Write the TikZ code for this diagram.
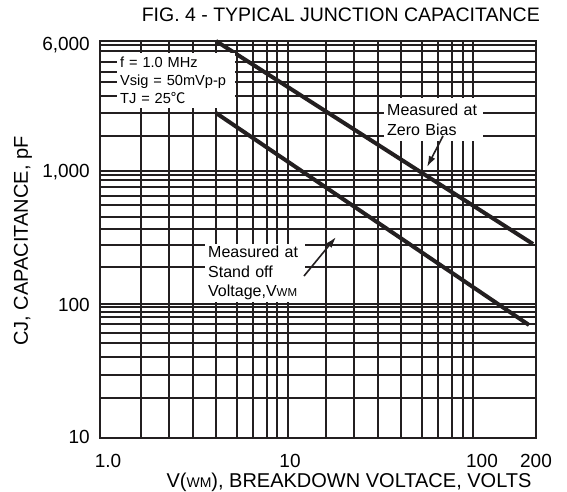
\documentclass[tikz,border=0pt]{standalone}
\usepackage{fontspec}
\setmainfont{Liberation Sans}
\newfontfamily\cjk{Noto Sans CJK SC}
\usepackage{tikz}
\usetikzlibrary{arrows.meta}
\definecolor{ink}{HTML}{231F20}
\tikzset{grid/.style={ink,line width=1.6pt},
    frame/.style={ink,line width=1.8pt},
    curve/.style={ink,line width=4pt},
    tick/.style={font=\fontsize{19}{19}\selectfont,inner sep=0pt},
    lab/.style={fill=white,inner xsep=3pt,inner ysep=0pt,align=left,font=\fontsize{16}{19.5}\selectfont}}

\begin{document}
\begin{tikzpicture}[x=1pt,y=-1pt,>={Latex[length=11pt,width=7pt]}]
    \useasboundingbox (0,0) rectangle (567,491);

    % grid and frame
    \foreach \x in {141,169,193,216,237,253,267,277,288,326,354,378,401,422,438,452,463,473}
        \draw [grid] (\x,41) -- (\x,438);
    \foreach \y in {45,51,62,72,82,96,113,136,171,175,180,187,196,205,217,229,245,267,304,307,312,317,324,333,343,357,375,398}
        \draw [grid] (100,\y) -- (536,\y);
    \draw [frame] (100,41) rectangle (536,438);

    % curves
    \coordinate (zb0) at (216,41);
    \coordinate (zb1) at (533,244);
    \coordinate (so0) at (216,113);
    \coordinate (so1) at (529,325);
    \draw [curve] (zb0) -- (zb1);
    \draw [curve] (so0) -- (so1);

    % labels
    \node[lab,font=\fontsize{14.6}{18}\selectfont,anchor=north west,text width=112pt,minimum height=55pt] (cond) at (117,53)
        {f = 1.0 MHz\\Vsig = 50mVp-p\\TJ = 25{\cjk ℃}};
    \node[lab,anchor=north west,text width=93pt,minimum height=43pt] (zero) at (384,98)
        {Measured at\\Zero Bias};
    \node[lab,anchor=north west,text width=94pt,minimum height=58pt] (stand) at (205,244)
        {Measured at\\Stand off\\Voltage,V{\fontsize{11.5}{11.5}\selectfont WM}};

    \coordinate (zbtail) at (443,136);
    \coordinate (zbtip) at (427,167);
    \coordinate (sotail) at (304,276);
    \coordinate (sotip) at (336,237);
    \draw [->,ink,line width=1.6pt] (zbtail) to (zbtip);
    \draw [->,ink,line width=1.6pt] (sotail) to (sotip);

    % ticks
    \node[tick,anchor=east] (y6000) at (90,45) {6,000};
    \node[tick,anchor=east] (y1000) at (90,172) {1,000};
    \node[tick,anchor=east] (y100) at (90,305) {100};
    \node[tick,anchor=east] (y10) at (90,437) {10};
    \node[tick] (x1) at (108,461) {1.0};
    \node[tick] (x10) at (290,461) {10};
    \node[tick] (x100) at (482,461) {100};
    \node[tick] (x200) at (536,461) {200};

    % titles
    \node[font=\fontsize{19.5}{19.5}\selectfont,anchor=east,inner sep=0pt] (title) at (540,15)
        {FIG. 4 - TYPICAL JUNCTION CAPACITANCE};
    \node[font=\fontsize{20}{20}\selectfont,inner sep=0pt] (xlab) at (349,482)
        {V({\fontsize{14}{14}\selectfont WM}), BREAKDOWN VOLTACE, VOLTS};
    \node[font=\fontsize{20}{20}\selectfont,rotate=90,inner sep=0pt] (ylab) at (23,241)
        {CJ, CAPACITANCE, pF};
\end{tikzpicture}
\end{document}
